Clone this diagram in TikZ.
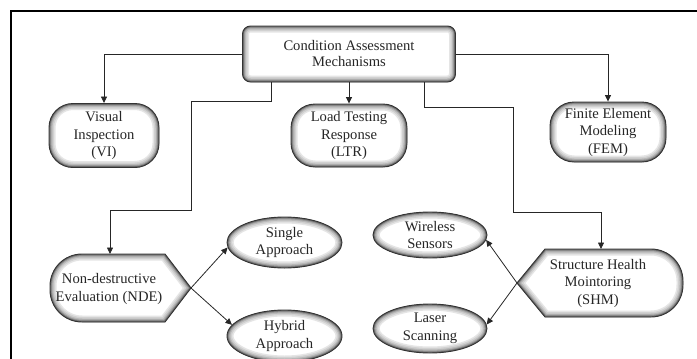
\documentclass[tikz,border=0pt]{standalone}
\usepackage{fontspec}
\setmainfont{Liberation Serif}
\usetikzlibrary{arrows.meta,shapes.geometric,calc}
\newcommand{\glowshape}[1]{%
  \fill[white] #1;
  \begin{scope}\clip #1;
    \foreach \w/\c in {13/10,10/18,7/28,4.6/40,2.6/58}{\draw[line width=\w pt, black!\c] #1;}
  \end{scope}
  \draw[black!80, line width=0.9pt] #1;}
\begin{document}
\begin{tikzpicture}[x=1pt,y=-1pt,
  every node/.style={font=\fontsize{14.6}{17.5}\selectfont, text=black!85, align=center, inner sep=0pt},
  glowrect/.style={rectangle, rounded corners=#1, draw=black!80, line width=0.9pt, fill=white,
    path picture={\foreach \w/\c in {13/10,10/18,7/28,4.6/40,2.6/58}{\draw[line width=\w pt, black!\c, rounded corners=#1] (path picture bounding box.south west) rectangle (path picture bounding box.north east);}}},
  glowell/.style={ellipse, draw=black!80, line width=0.9pt, fill=white,
    path picture={\foreach \w/\c in {13/10,10/18,7/28,4.6/40,2.6/58}{\draw[line width=\w pt, black!\c] let \p1=(path picture bounding box.north east), \p2=(path picture bounding box.center) in (\p2) ellipse [x radius=\x1-\x2, y radius=\y1-\y2];}}},
  conn/.style={draw=black!85, line width=0.8pt, -{Triangle[length=6.5pt,width=6pt]}},
]
\useasboundingbox (0,0) rectangle (697,359);
% frame
\draw[black, line width=1.6pt] (697,11) -- (10,11);
\draw[black, line width=2.4pt] (11,10) -- (11,359);

% top-level nodes
\node[glowrect=8, minimum width=213, minimum height=56, font=\fontsize{14.6}{16}\selectfont] (top) at (349,54) {Condition Assessment\\Mechanisms};
\node[glowrect=24, minimum width=110, minimum height=64] (vi) at (104,135.5) {Visual\\Inspection\\(VI)};
\node[glowrect=24, minimum width=116, minimum height=63] (ltr) at (349,135.5) {Load Testing\\Response\\(LTR)};
\node[glowrect=24, minimum width=116, minimum height=60] (fem) at (608,132) {Finite Element\\Modeling\\(FEM)};

% NDE and SHM shapes
\glowshape{(165,254) -- (191,288) -- (165,322) -- (82,322) arc[start angle=90,end angle=180,radius=32] -- (50,286) arc[start angle=180,end angle=270,radius=32] -- cycle}
\glowshape{(545,249) -- (651,249) arc[start angle=270,end angle=360,radius=32] -- (683,285) arc[start angle=0,end angle=90,radius=32] -- (545,317) -- (517,283) -- cycle}
\node (nde) at (109,289) {Non-destructive\\Evaluation (NDE)};
\node (shm) at (598,283) {Structure Health\\Mointoring\\(SHM)};
\coordinate (ndeP) at (191,288);
\coordinate (ndeIn) at (110,254);
\coordinate (shmP) at (517,283);
\coordinate (shmIn) at (601,249);

% ellipses
\node[glowell, minimum width=115, minimum height=51] (single) at (284.5,242.5) {Single\\Approach};
\node[glowell, minimum width=115, minimum height=52] (hybrid) at (284.5,336) {Hybrid\\Approach};
\node[glowell, minimum width=114, minimum height=46] (wireless) at (430,235) {Wireless\\Sensors};
\node[glowell, minimum width=114, minimum height=49] (laser) at (430,328.5) {Laser\\Scanning};

% connectors
\draw[conn] (top.west) -| (vi.north);
\draw[conn] (top.south) -- (ltr.north);
\draw[conn] (top.east) -| (fem.north);
\draw[conn] ([xshift=-78pt]top.south) -- ++(0,19) -| (191,210) -| (ndeIn);
\draw[conn] ([xshift=75pt]top.south) -- ++(0,25) -| (513,212) -| (shmIn);
\draw[conn] (ndeP) -- (single.185);
\draw[conn] (ndeP) -- (hybrid.168);
\draw[conn] (shmP) -- (wireless.-5);
\draw[conn] (shmP) -- (laser.4);
\end{tikzpicture}
\end{document}
